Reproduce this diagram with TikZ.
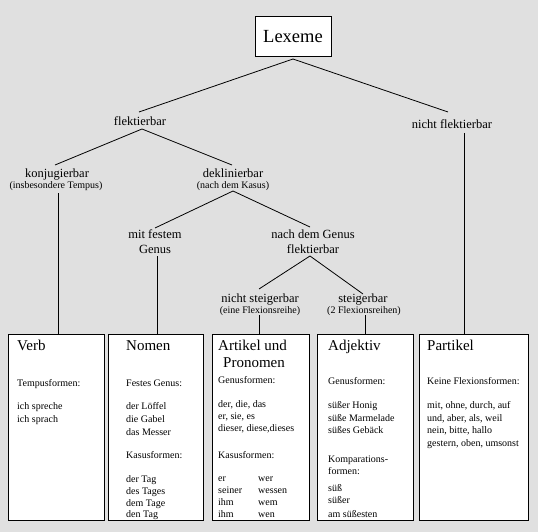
\documentclass[tikz,border=0pt]{standalone}
\usepackage{fontspec}
\setmainfont{Liberation Serif}
\definecolor{bg}{RGB}{224,224,224}
\begin{document}
\begin{tikzpicture}[x=1pt,y=-1pt,
  conn/.style={draw=black,line width=0.8pt},
  lbl/.style={inner sep=0pt,anchor=base,font=\fontsize{12.5}{14}\selectfont},
  sub/.style={inner sep=0pt,anchor=base,font=\fontsize{10}{12}\selectfont},
  box/.style={draw=black,fill=white,line width=1pt,inner sep=0pt,anchor=north west,minimum height=186pt},
  ttl/.style={inner sep=0pt,anchor=base west,font=\fontsize{15}{17}\selectfont},
  txt/.style={inner sep=0pt,anchor=base west,font=\fontsize{10}{12}\selectfont}]
\fill[bg] (0,0) rectangle (538,532);
\useasboundingbox (0,0) rectangle (538,532);

% top node
\node[draw=black,fill=white,line width=1pt,minimum width=76pt,minimum height=40pt,inner sep=0pt,
      font=\fontsize{18.5}{20}\selectfont] (lex) at (293,37) {Lexeme};

% labels
\node[lbl] (flek) at (140,126) {flektierbar};
\node[lbl] (nflek) at (452,129) {nicht flektierbar};
\node[lbl] (konj) at (57,177) {konjugierbar};
\node[sub] (konjs) at (56,188) {(insbesondere Tempus)};
\node[lbl] (dekl) at (233,177) {deklinierbar};
\node[sub] (dekls) at (233,188) {(nach dem Kasus)};
\node[lbl] (mit) at (155,238) {mit festem};
\node[lbl] (mitg) at (155,253) {Genus};
\node[lbl] (nach) at (313,238) {nach dem Genus};
\node[lbl] (nachf) at (313,253) {flektierbar};
\node[lbl] (nst) at (260,302) {nicht steigerbar};
\node[sub] (nsts) at (260,313) {(eine Flexionsreihe)};
\node[lbl] (st) at (363,302) {steigerbar};
\node[sub] (sts) at (364,313) {(2 Flexionsreihen)};

% connector end points
\coordinate (lexB) at (293,59);
\coordinate (flekT) at (139,112);
\coordinate (flekB) at (142,129);
\coordinate (nflekT) at (448,112);
\coordinate (nflekB) at (464,133);
\coordinate (konjT) at (55,165);
\coordinate (konjB) at (58,193);
\coordinate (deklT) at (232,165);
\coordinate (deklB) at (233,191);
\coordinate (mitT) at (155,228);
\coordinate (mitB) at (157,256);
\coordinate (nachT) at (310,227);
\coordinate (nachB) at (310,256);
\coordinate (nstT) at (259,289);
\coordinate (nstB) at (259,315);
\coordinate (stT) at (363,294);
\coordinate (stB) at (365,315);

% boxes
\node[box,minimum width=96pt] (verb) at (8,334) {};
\node[box,minimum width=95pt] (nomen) at (108,334) {};
\node[box,minimum width=97pt] (art) at (212,334) {};
\node[box,minimum width=96pt] (adj) at (317,334) {};
\node[box,minimum width=109pt] (part) at (419,334) {};

% connectors
\draw[conn] (flekT) -- (lexB) -- (nflekT);
\draw[conn] (konjT) -- (flekB) -- (deklT);
\draw[conn] (mitT) -- (deklB) -- (nachT);
\draw[conn] (nstT) -- (nachB) -- (stT);
\draw[conn] (konjB) -- (konjB |- verb.north);
\draw[conn] (mitB) -- (mitB |- nomen.north);
\draw[conn] (nstB) -- (nstB |- art.north);
\draw[conn] (stB) -- (stB |- adj.north);
\draw[conn] (nflekB) -- (nflekB |- part.north);

% Verb
\node[ttl] (verbT) at (17,350) {Verb};
\node[txt] (verb1) at (17,386) {Tempusformen:};
\node[txt] (verb2) at (17,409) {ich spreche};
\node[txt] (verb3) at (17,422) {ich sprach};

% Nomen
\node[ttl] (nomT) at (126,350) {Nomen};
\node[txt] (nom1) at (126,386) {Festes Genus:};
\node[txt] (nom2) at (126,409) {der Löffel};
\node[txt] (nom3) at (126,422) {die Gabel};
\node[txt] (nom4) at (126,435) {das Messer};
\node[txt] (nom5) at (126,458) {Kasusformen:};
\node[txt] (nom6) at (126,482) {der Tag};
\node[txt] (nom7) at (126,494) {des Tages};
\node[txt] (nom8) at (126,506) {dem Tage};
\node[txt] (nom9) at (126,517) {den Tag};

% Artikel und Pronomen
\node[ttl] (artT) at (218,350) {Artikel und};
\node[ttl] (artT2) at (223,367) {Pronomen};
\node[txt] (art1) at (218,383) {Genusformen:};
\node[txt] (art2) at (218,407) {der, die, das};
\node[txt] (art3) at (218,419) {er, sie, es};
\node[txt] (art4) at (218,431) {dieser, diese,dieses};
\node[txt] (art5) at (218,458) {Kasusformen:};
\node[txt] (art6) at (218,481) {er};
\node[txt] (art7) at (218,493) {seiner};
\node[txt] (art8) at (218,505) {ihm};
\node[txt] (art9) at (218,517) {ihm};
\node[txt] (art10) at (258,481) {wer};
\node[txt] (art11) at (258,493) {wessen};
\node[txt] (art12) at (258,505) {wem};
\node[txt] (art13) at (258,517) {wen};

% Adjektiv
\node[ttl] (adjT) at (328,350) {Adjektiv};
\node[txt] (adj1) at (328,384) {Genusformen:};
\node[txt] (adj2) at (328,408) {süßer Honig};
\node[txt] (adj3) at (328,421) {süße Marmelade};
\node[txt] (adj4) at (328,433) {süßes Gebäck};
\node[txt] (adj5) at (328,462) {Komparations-};
\node[txt] (adj6) at (328,474) {formen:};
\node[txt] (adj7) at (328,491) {süß};
\node[txt] (adj8) at (328,503) {süßer};
\node[txt] (adj9) at (328,517) {am süßesten};

% Partikel
\node[ttl] (partT) at (427,350) {Partikel};
\node[txt] (part1) at (427,384) {Keine Flexionsformen:};
\node[txt] (part2) at (427,408) {mit, ohne, durch, auf};
\node[txt] (part3) at (427,421) {und, aber, als, weil};
\node[txt] (part4) at (427,433) {nein, bitte, hallo};
\node[txt] (part5) at (427,446) {gestern, oben, umsonst};
\end{tikzpicture}
\end{document}
